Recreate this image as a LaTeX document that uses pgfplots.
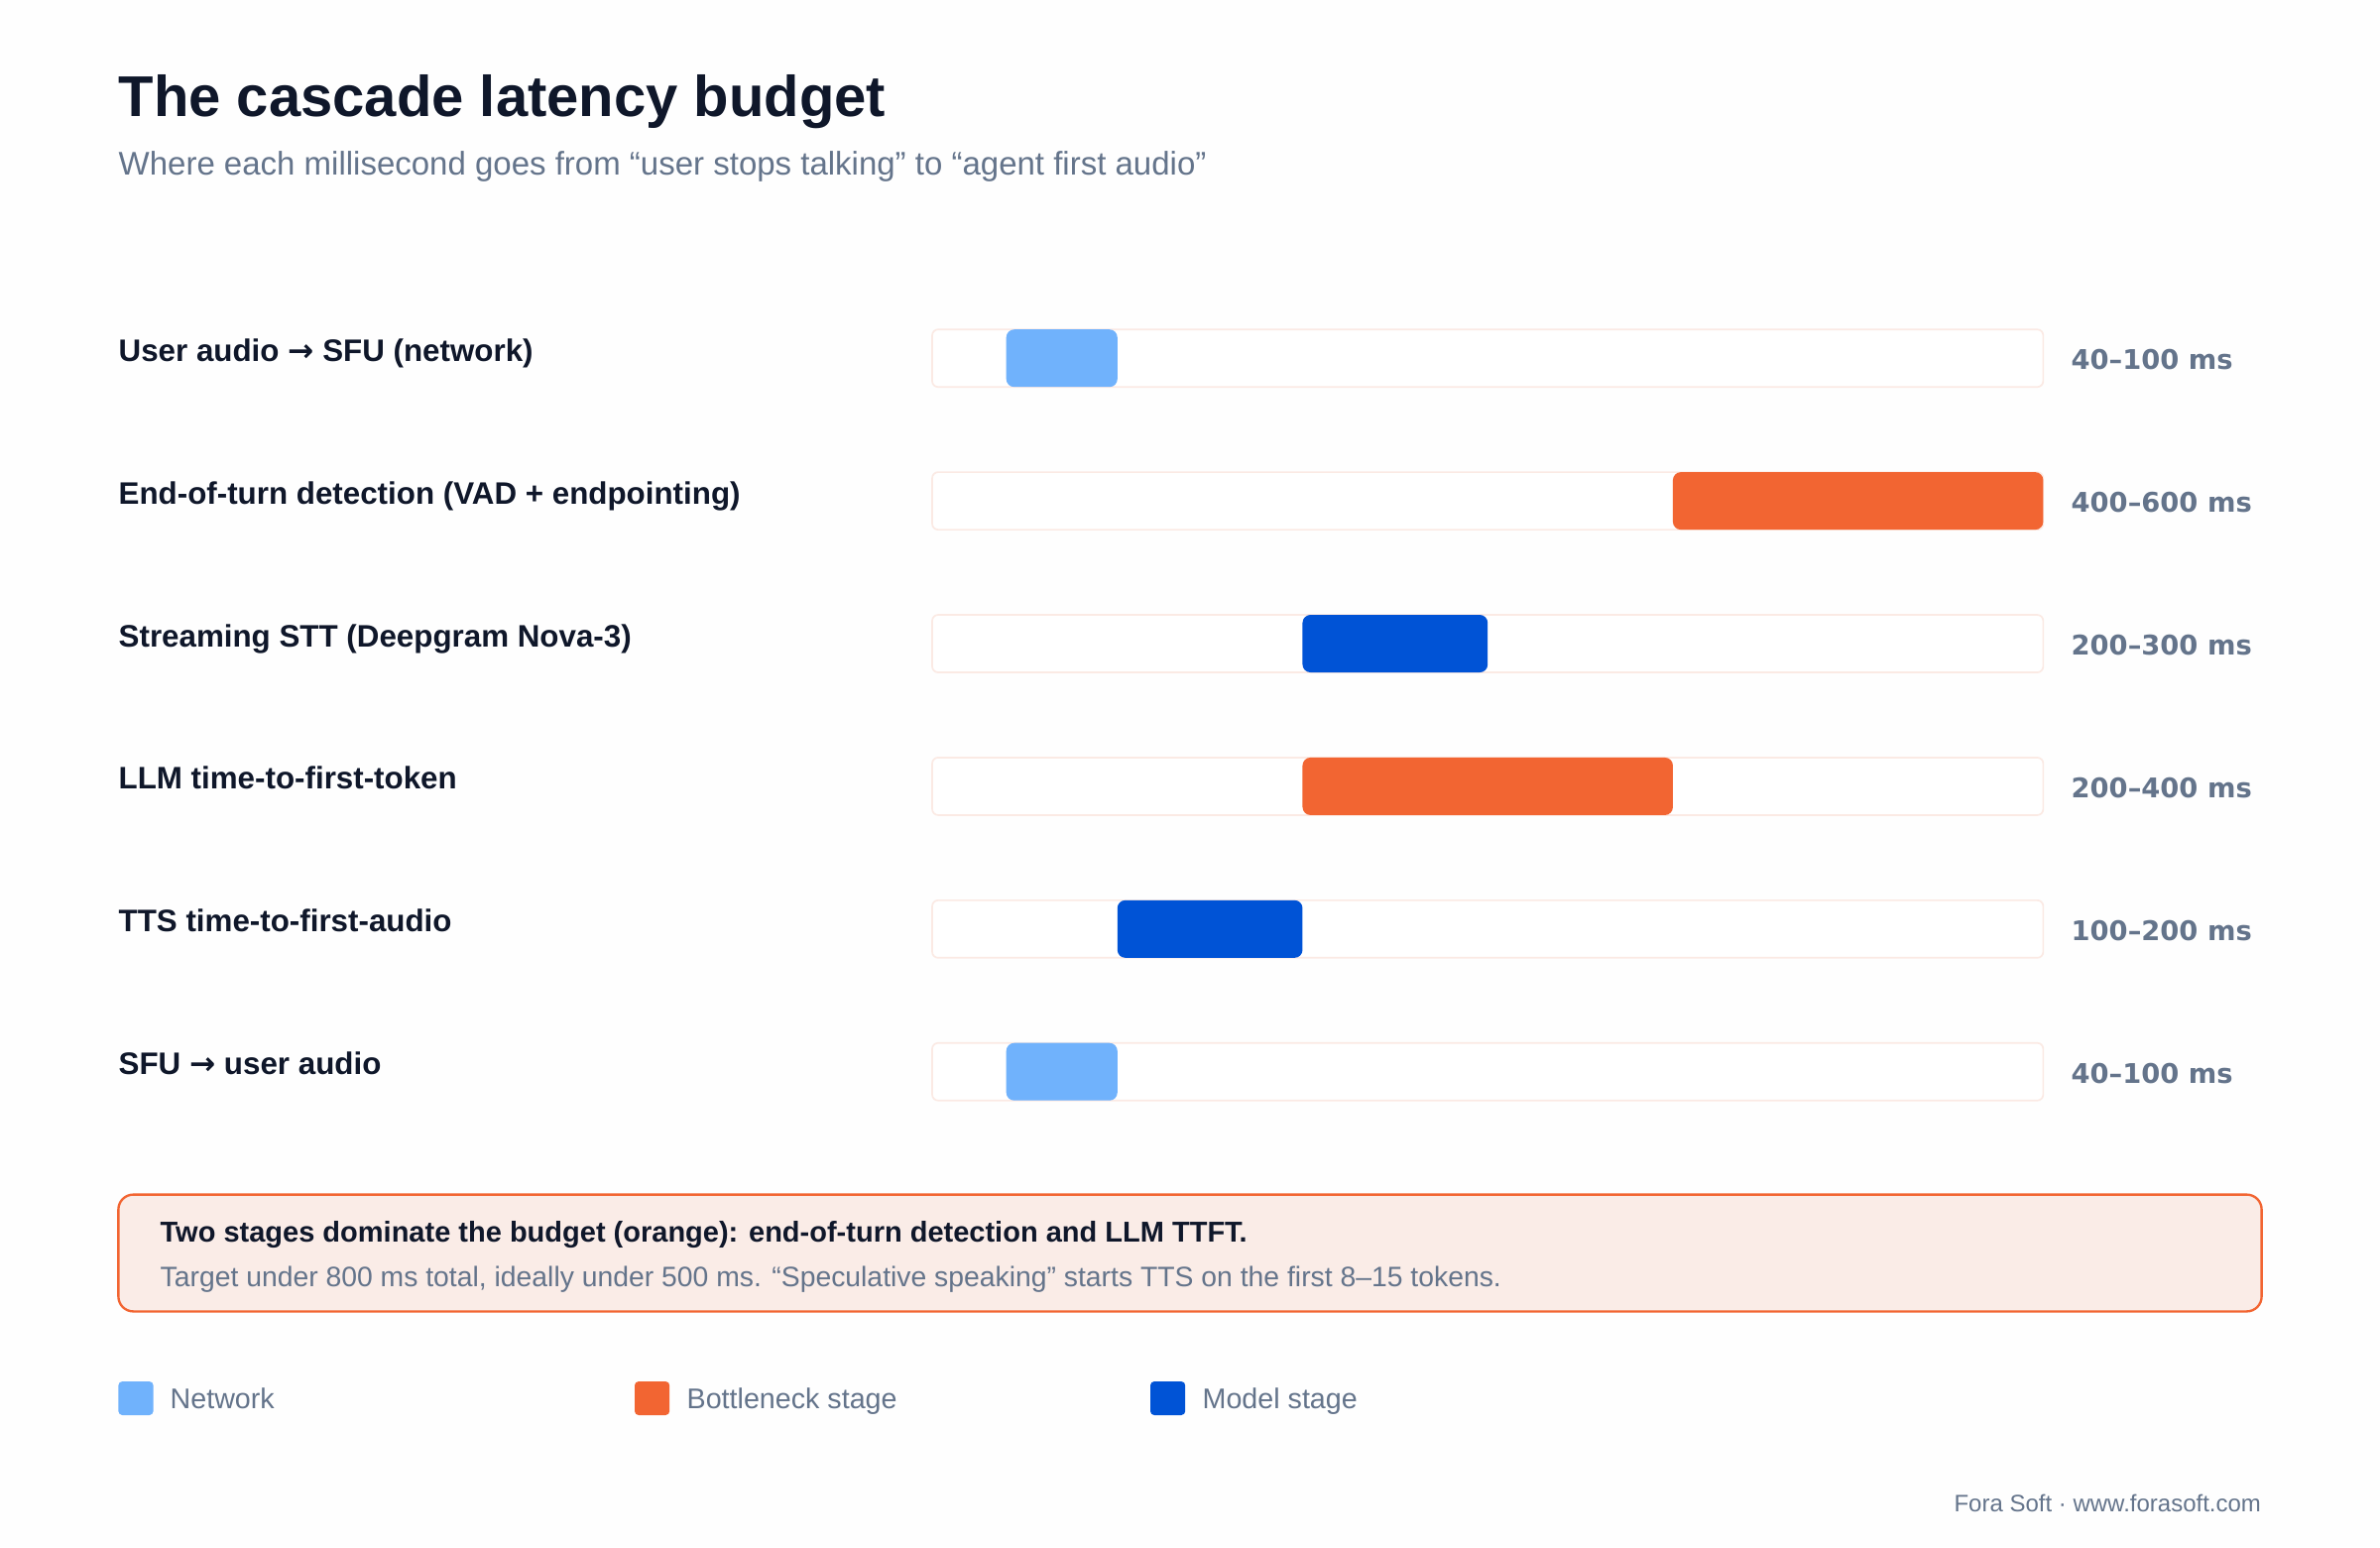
\documentclass[border=0pt]{standalone}
\usepackage{pgfplots}
\pgfplotsset{compat=1.18}
\usepackage{fontspec}
\setmainfont{Liberation Sans}
\newfontfamily\dv{DejaVu Sans}
\definecolor{bgc}{HTML}{FEFEFE}
\definecolor{darkc}{HTML}{0F172A}
\definecolor{grayc}{HTML}{64748B}
\definecolor{netc}{HTML}{70B2FC}
\definecolor{botc}{HTML}{F26532}
\definecolor{modc}{HTML}{0053D6}
\definecolor{trackc}{HTML}{FBEAE4}
\definecolor{notec}{HTML}{FAECE7}
\newcommand{\arr}{{\dv\bfseries →}}
\begin{document}
\begin{tikzpicture}
\begin{scope}[x=0.3bp,y=-0.3bp]
\fill[bgc] (0,0) rectangle (2400,1560);
\node[anchor=base west, inner sep=0, text=darkc, font=\fontsize{17.4bp}{20bp}\selectfont\bfseries] at (119,117) {The cascade latency budget};
\node[anchor=base west, inner sep=0, text=grayc, font=\fontsize{9.9bp}{12bp}\selectfont] at (119,176) {Where each millisecond goes from “user stops talking” to “agent first audio”};
% row labels
\begin{scope}[every node/.style={anchor=base west, inner sep=0, text=darkc, font=\fontsize{9.4bp}{11bp}\selectfont\bfseries}]
\node at (119,364.2) {User audio \arr{} SFU (network)};
\node at (119,508.1) {End-of-turn detection (VAD + endpointing)};
\node at (119,652.0) {Streaming STT (Deepgram Nova-3)};
\node at (119,795.9) {LLM time-to-first-token};
\node at (119,939.8) {TTS time-to-first-audio};
\node at (119,1083.7) {SFU \arr{} user audio};
\end{scope}
% value labels
\begin{scope}[every node/.style={anchor=base west, inner sep=0, text=grayc, font=\fontsize{8.2bp}{10bp}\dv\bfseries}]
\node at (2088,372.7) {40–100 ms};
\node at (2088,516.6) {400–600 ms};
\node at (2088,660.5) {200–300 ms};
\node at (2088,804.4) {200–400 ms};
\node at (2088,948.3) {100–200 ms};
\node at (2088,1092.2) {40–100 ms};
\end{scope}
% note box
\draw[fill=notec, draw=botc, line width=0.7bp, rounded corners=4.5bp] (119.4,1204.6) rectangle (2280.6,1322.4);
\node[anchor=base west, inner sep=0, text=darkc, font=\fontsize{8.7bp}{10bp}\selectfont\bfseries] at (161,1252) {Two stages dominate the budget (orange): end-of-turn detection and LLM TTFT.};
\node[anchor=base west, inner sep=0, text=grayc, font=\fontsize{8.5bp}{10bp}\selectfont] at (161,1297) {Target under 800 ms total, ideally under 500 ms. “Speculative speaking” starts TTS on the first 8–15 tokens.};
% legend
\fill[netc, rounded corners=1.2bp] (119.4,1393) rectangle (154.6,1427);
\fill[botc, rounded corners=1.2bp] (640,1393) rectangle (675.2,1427);
\fill[modc, rounded corners=1.2bp] (1160,1393) rectangle (1195.2,1427);
\begin{scope}[every node/.style={anchor=base west, inner sep=0, text=grayc, font=\fontsize{8.6bp}{10bp}\selectfont}]
\node at (171,1420) {Network};
\node at (692,1420) {Bottleneck stage};
\node at (1212,1420) {Model stage};
\end{scope}
\node[anchor=base east, inner sep=0, text=grayc, font=\fontsize{7.2bp}{9bp}\selectfont] at (2280.6,1524) {Fora Soft · www.forasoft.com};
\end{scope}
\begin{axis}[at={(282bp,-86.775bp)}, anchor=north west, scale only axis,
  width=336.1bp, height=259.02bp, xmin=0, xmax=600, ymin=0.5, ymax=6.5,
  y dir=reverse, hide axis, clip=false]
% tracks
\addplot[fill=white, draw=trackc, line width=0.5bp, rounded corners=1.8bp] coordinates {(0,0.7985) (600,0.7985) (600,1.2015) (0,1.2015)} --cycle;
\addplot[fill=white, draw=trackc, line width=0.5bp, rounded corners=1.8bp] coordinates {(0,1.7985) (600,1.7985) (600,2.2015) (0,2.2015)} --cycle;
\addplot[fill=white, draw=trackc, line width=0.5bp, rounded corners=1.8bp] coordinates {(0,2.7985) (600,2.7985) (600,3.2015) (0,3.2015)} --cycle;
\addplot[fill=white, draw=trackc, line width=0.5bp, rounded corners=1.8bp] coordinates {(0,3.7985) (600,3.7985) (600,4.2015) (0,4.2015)} --cycle;
\addplot[fill=white, draw=trackc, line width=0.5bp, rounded corners=1.8bp] coordinates {(0,4.7985) (600,4.7985) (600,5.2015) (0,5.2015)} --cycle;
\addplot[fill=white, draw=trackc, line width=0.5bp, rounded corners=1.8bp] coordinates {(0,5.7985) (600,5.7985) (600,6.2015) (0,6.2015)} --cycle;
% ranges
\addplot[fill=netc, draw=none, rounded corners=2.4bp] coordinates {(40,0.7985) (100,0.7985) (100,1.2015) (40,1.2015)} --cycle;
\addplot[fill=botc, draw=none, rounded corners=2.4bp] coordinates {(400,1.7985) (600,1.7985) (600,2.2015) (400,2.2015)} --cycle;
\addplot[fill=modc, draw=none, rounded corners=2.4bp] coordinates {(200,2.7985) (300,2.7985) (300,3.2015) (200,3.2015)} --cycle;
\addplot[fill=botc, draw=none, rounded corners=2.4bp] coordinates {(200,3.7985) (400,3.7985) (400,4.2015) (200,4.2015)} --cycle;
\addplot[fill=modc, draw=none, rounded corners=2.4bp] coordinates {(100,4.7985) (200,4.7985) (200,5.2015) (100,5.2015)} --cycle;
\addplot[fill=netc, draw=none, rounded corners=2.4bp] coordinates {(40,5.7985) (100,5.7985) (100,6.2015) (40,6.2015)} --cycle;
\end{axis}
\end{tikzpicture}
\end{document}
